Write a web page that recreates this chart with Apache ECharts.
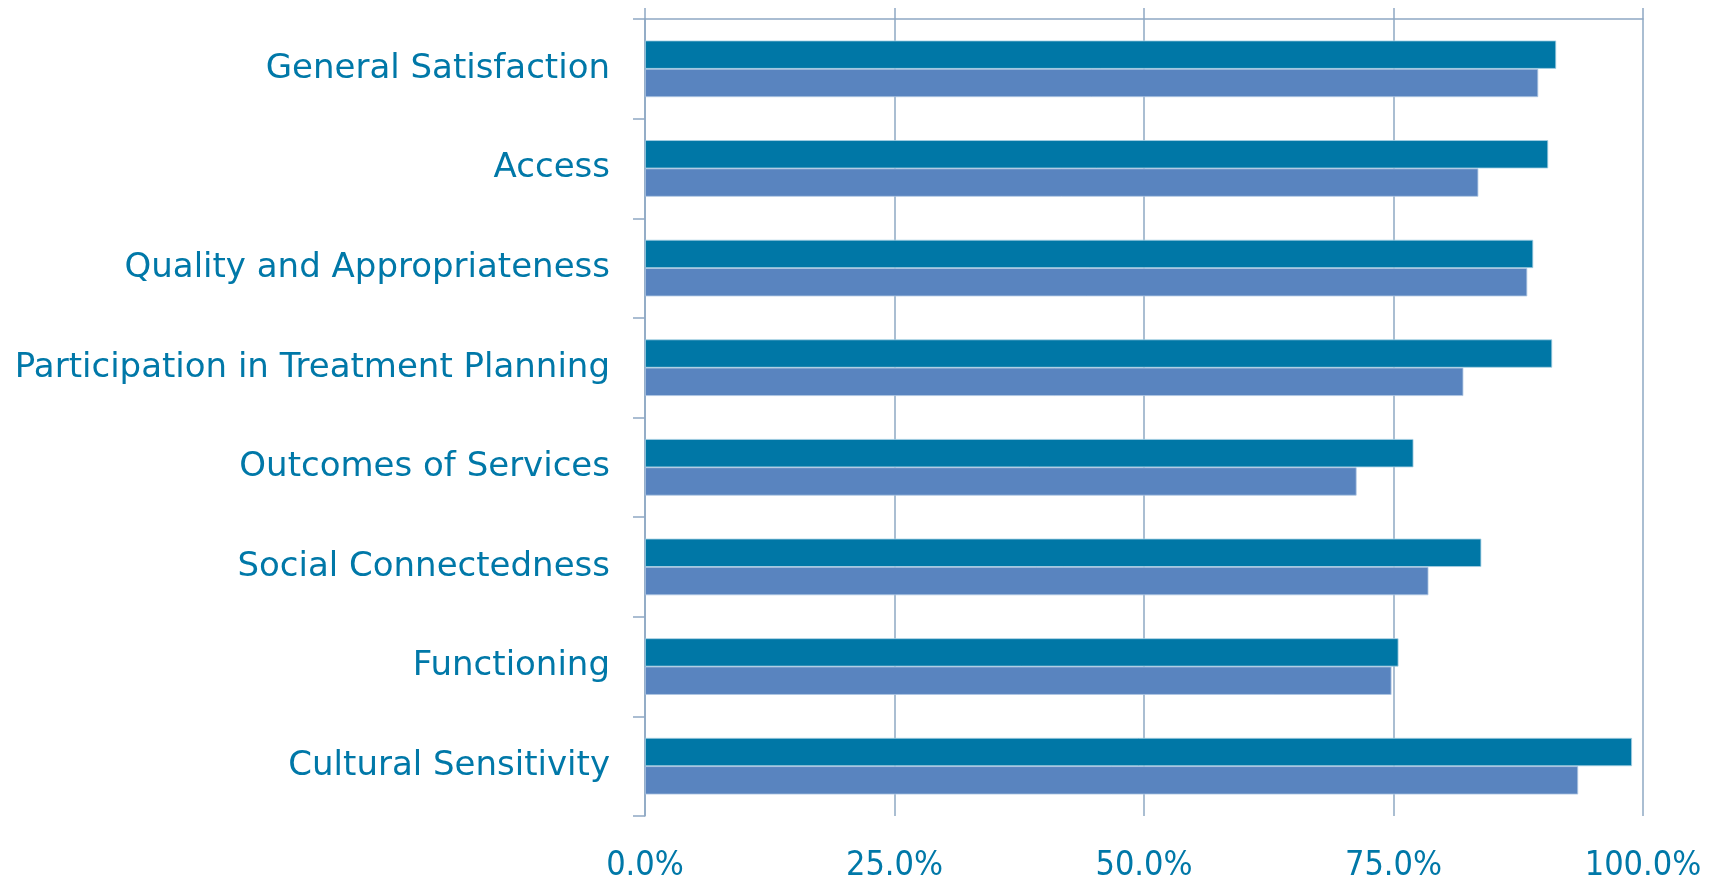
<!DOCTYPE html>
<html>
<head>
<meta charset="utf-8">
<script src="https://cdn.jsdelivr.net/npm/echarts@6/dist/echarts.min.js"></script>
<style>html,body{margin:0;padding:0;background:#fff;}#c{width:1717px;height:883px;}</style>
</head>
<body>
<div id="c"></div>
<script>
const categories = ["General Satisfaction","Access","Quality and Appropriateness","Participation in Treatment Planning","Outcomes of Services","Social Connectedness","Functioning","Cultural Sensitivity"];
const seriesA = [91.3, 90.5, 89.0, 90.9, 77.0, 83.8, 75.5, 98.9];
const seriesB = [89.5, 83.5, 88.4, 82.0, 71.3, 78.5, 74.8, 93.5];
const tickValues = [0, 25, 50, 75, 100];

const lineColor = '#8EA8C3';
const textColor = '#0078A8';
const chart = echarts.init(document.getElementById('c'), null, {renderer: 'canvas'});
chart.setOption({
  animation: false,
  grid: {left: 645, right: 74, top: 19, bottom: 66},
  xAxis: [{
    type: 'value', position: 'bottom', min: tickValues[0], max: tickValues[tickValues.length - 1], interval: tickValues[1] - tickValues[0],
    axisLine: {show: false}, axisTick: {show: false},
    splitLine: {show: true, lineStyle: {color: lineColor, width: 1.5}},
    axisLabel: {color: textColor, fontSize: 34, fontFamily: 'DejaVu Sans Condensed', margin: 33,
      formatter: v => v.toFixed(1) + '%'}
  }, {
    type: 'value', position: 'top', min: tickValues[0], max: tickValues[tickValues.length - 1], interval: tickValues[1] - tickValues[0],
    axisLine: {show: true, lineStyle: {color: lineColor, width: 1.5}},
    axisTick: {show: true, length: 11, lineStyle: {color: lineColor, width: 1.5}},
    axisLabel: {show: false}, splitLine: {show: false}
  }],
  yAxis: {
    type: 'category', data: categories, inverse: true,
    axisLine: {show: true, lineStyle: {color: lineColor, width: 1.5}},
    axisTick: {show: true, length: 12, lineStyle: {color: lineColor, width: 1.5}},
    axisLabel: {color: textColor, fontSize: 34, fontFamily: 'DejaVu Sans', margin: 35, padding: [4, 0, 0, 0]}
  },
  series: [{
    type: 'bar', data: seriesA, barWidth: 28.3, barGap: '0%',
    itemStyle: {color: '#0077A6', borderColor: '#A8D2E4', borderWidth: 0.8}
  }, {
    type: 'bar', data: seriesB, barWidth: 28.3, barGap: '0%',
    itemStyle: {color: '#5984BF', borderColor: '#AFC6E2', borderWidth: 0.8}
  }]
});
</script>
</body>
</html>
